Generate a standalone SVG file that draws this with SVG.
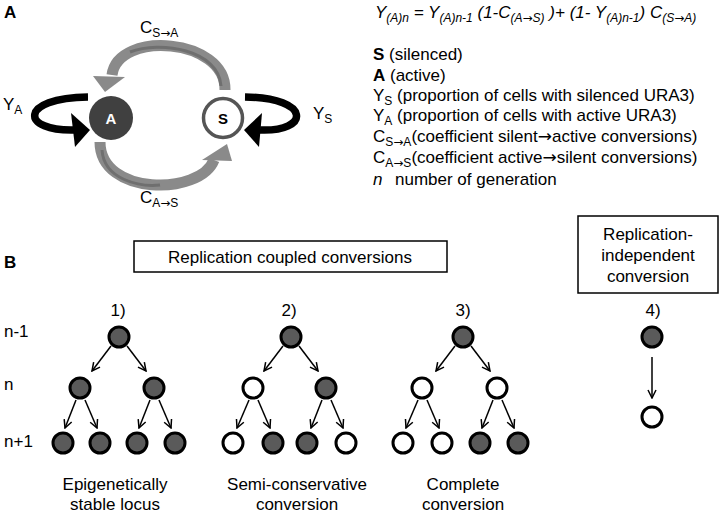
<svg xmlns="http://www.w3.org/2000/svg" width="725" height="514" viewBox="0 0 725 514">
<defs>
<style>
text{font-family:"Liberation Sans",Arial,sans-serif;fill:#000}
.t{font-size:17px}
.s{font-size:12px}
.arr{font-family:"DejaVu Sans",sans-serif}
.lbl{font-size:17px;font-weight:bold}
.g{fill:#5a5a5a;stroke:#000;stroke-width:3}
.w{fill:#fff;stroke:#000;stroke-width:3}
.ar{fill:none;stroke:#000;stroke-width:1.5;marker-end:url(#v)}
.box{fill:#fff;stroke:#000;stroke-width:1.5}
.gray{fill:none;stroke:#8a8a8a;stroke-width:11}
.grayin{fill:none;stroke:#6f6f6f;stroke-width:3}
.blk{fill:none;stroke:#000;stroke-width:7.5}
</style>
<marker id="v" viewBox="0 0 10 10" refX="9" refY="5" markerWidth="10" markerHeight="10" markerUnits="userSpaceOnUse" orient="auto">
<path d="M1,1 L9,5 L1,9" fill="none" stroke="#000" stroke-width="1.5"/>
</marker>
</defs>
<rect width="725" height="514" fill="#fff"/>

<text x="4" y="18" class="lbl">A</text>
<text x="4" y="268" class="lbl">B</text>

<g id="connectors-A">
<path class="gray" d="M225 90 C226 38 118 30 112 75"/>
<path class="grayin" d="M221 86 C219 50 160 40 130 52"/>
<polygon points="105,92 93,76 125,77" fill="#8a8a8a"/>
<path class="gray" d="M100 142 C100 196 200 196 214 160"/>
<path class="grayin" d="M102 150 C104 180 140 187 160 185"/>
<polygon points="227,144 202,160 232,161" fill="#8a8a8a"/>
<path class="blk" d="M88 97 C18 98 20 132 76 130"/>
<polygon points="90,130 71,113 75,147" fill="#000"/>
<path class="blk" d="M245 97 C312 98 310 132 260 130"/>
<polygon points="244,130 262,113 259,147" fill="#000"/>
</g>

<g id="node-A">
<circle cx="111" cy="118" r="22" fill="#404040"/>
<text x="111" y="124" text-anchor="middle" font-size="15" font-weight="bold" style="fill:#fff">A</text>
</g>
<g id="node-S">
<circle cx="223" cy="118" r="19.5" fill="#fff" stroke="#555" stroke-width="3.5"/>
<text x="223" y="124" text-anchor="middle" font-size="15" font-weight="bold">S</text>
</g>

<text x="140" y="33" class="t">C<tspan class="s" dy="4">S<tspan class="arr">→</tspan>A</tspan></text>
<text x="140" y="203" class="t">C<tspan class="s" dy="4">A<tspan class="arr">→</tspan>S</tspan></text>
<text x="3" y="110" class="t">Y<tspan class="s" dy="4">A</tspan></text>
<text x="313" y="119" class="t">Y<tspan class="s" dy="4">S</tspan></text>

<text x="375" y="18" class="t" font-style="italic">Y<tspan class="s" dy="4">(A)n</tspan><tspan dy="-4"> = Y</tspan><tspan class="s" dy="4">(A)n-1</tspan><tspan dy="-4"> (1-C</tspan><tspan class="s" dy="4">(A<tspan class="arr">→</tspan>S)</tspan><tspan dy="-4"> )+ (1- Y</tspan><tspan class="s" dy="4">(A)n-1</tspan><tspan dy="-4">) C</tspan><tspan class="s" dy="4">(S<tspan class="arr">→</tspan>A)</tspan></text>

<text x="373" y="60" class="t"><tspan font-weight="bold">S</tspan> (silenced)</text>
<text x="373" y="81" class="t"><tspan font-weight="bold">A</tspan> (active)</text>
<text x="373" y="101" class="t">Y<tspan class="s" dy="4">S</tspan><tspan dy="-4"> (proportion of cells with silenced URA3)</tspan></text>
<text x="373" y="121" class="t">Y<tspan class="s" dy="4">A</tspan><tspan dy="-4"> (proportion of cells with active URA3)</tspan></text>
<text x="373" y="142" class="t">C<tspan class="s" dy="4">S<tspan class="arr">→</tspan>A</tspan><tspan dy="-4">(coefficient silent<tspan class="arr">→</tspan>active conversions)</tspan></text>
<text x="373" y="163" class="t">C<tspan class="s" dy="4">A<tspan class="arr">→</tspan>S</tspan><tspan dy="-4">(coefficient active<tspan class="arr">→</tspan>silent conversions)</tspan></text>
<text x="373" y="185" class="t"><tspan font-style="italic">n</tspan></text>
<text x="395" y="185" class="t">number of generation</text>

<g id="box-coupled">
<rect class="box" x="134" y="241" width="313" height="31"/>
<text x="290" y="263" class="t" text-anchor="middle">Replication coupled conversions</text>
</g>
<g id="box-independent">
<rect class="box" x="578" y="216" width="140" height="77"/>
<text x="648" y="240" class="t" text-anchor="middle">Replication-</text>
<text x="648" y="261" class="t" text-anchor="middle">independent</text>
<text x="648" y="282" class="t" text-anchor="middle">conversion</text>
</g>

<text x="4" y="337" class="t">n-1</text>
<text x="4" y="390" class="t">n</text>
<text x="4" y="447" class="t">n+1</text>

<g id="connectors-B">
<path class="ar" d="M111 346 L92 371"/><path class="ar" d="M127 346 L146 371"/>
<path class="ar" d="M76 400 L65 428"/><path class="ar" d="M85 400 L97 428"/>
<path class="ar" d="M150 400 L139 428"/><path class="ar" d="M159 400 L171 428"/>

<path class="ar" d="M283 346 L264 371"/><path class="ar" d="M299 346 L318 371"/>
<path class="ar" d="M249 400 L237 428"/><path class="ar" d="M258 400 L270 428"/>
<path class="ar" d="M322 400 L311 428"/><path class="ar" d="M331 400 L343 428"/>

<path class="ar" d="M455 346 L436 371"/><path class="ar" d="M471 346 L490 371"/>
<path class="ar" d="M418 400 L406 428"/><path class="ar" d="M427 400 L439 428"/>
<path class="ar" d="M493 400 L482 428"/><path class="ar" d="M502 400 L514 428"/>

<path class="ar" d="M652 357 L652 398"/>
</g>

<g id="tree1">
<text x="118" y="316" class="t" text-anchor="middle">1)</text>
<circle class="g" cx="119" cy="337" r="10"/>
<circle class="g" cx="80" cy="388" r="10"/>
<circle class="g" cx="154" cy="388" r="10"/>
<circle class="g" cx="63" cy="443" r="10"/>
<circle class="g" cx="100" cy="443" r="10"/>
<circle class="g" cx="137" cy="443" r="10"/>
<circle class="g" cx="175" cy="443" r="10"/>
<text x="115" y="490" class="t" text-anchor="middle">Epigenetically</text>
<text x="115" y="510" class="t" text-anchor="middle">stable locus</text>
</g>
<g id="tree2">
<text x="289" y="316" class="t" text-anchor="middle">2)</text>
<circle class="g" cx="291" cy="337" r="10"/>
<circle class="w" cx="253" cy="388" r="10"/>
<circle class="g" cx="326" cy="388" r="10"/>
<circle class="w" cx="233" cy="443" r="10"/>
<circle class="g" cx="273" cy="443" r="10"/>
<circle class="g" cx="307" cy="443" r="10"/>
<circle class="w" cx="346" cy="443" r="10"/>
<text x="297" y="490" class="t" text-anchor="middle">Semi-conservative</text>
<text x="297" y="510" class="t" text-anchor="middle">conversion</text>
</g>
<g id="tree3">
<text x="463" y="316" class="t" text-anchor="middle">3)</text>
<circle class="g" cx="463" cy="337" r="10"/>
<circle class="w" cx="422" cy="388" r="10"/>
<circle class="w" cx="497" cy="388" r="10"/>
<circle class="w" cx="403" cy="443" r="10"/>
<circle class="w" cx="442" cy="443" r="10"/>
<circle class="g" cx="480" cy="443" r="10"/>
<circle class="g" cx="518" cy="443" r="10"/>
<text x="463" y="490" class="t" text-anchor="middle">Complete</text>
<text x="463" y="510" class="t" text-anchor="middle">conversion</text>
</g>
<g id="tree4">
<text x="653" y="316" class="t" text-anchor="middle">4)</text>
<circle class="g" cx="652" cy="337" r="10"/>
<circle class="w" cx="652" cy="417" r="10"/>
</g>
</svg>
